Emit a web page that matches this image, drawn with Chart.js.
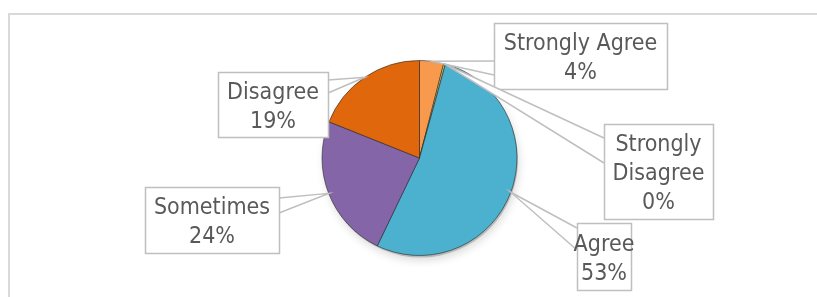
<!DOCTYPE html>
<html>
<head>
<meta charset="utf-8">
<script src="https://cdn.jsdelivr.net/npm/chart.js@4.4.1/dist/chart.umd.min.js"></script>
<style>
    html, body { margin: 0; padding: 0; background: #ffffff; }
    #wrap { width: 817px; height: 297px; }
</style>
</head>
<body>
<div id="wrap"><canvas id="survey" width="817" height="297"></canvas></div>
<script>
// answers, clockwise from 12 o'clock
const categories = ["Strongly Agree", "Strongly Disagree", "Agree", "Sometimes", "Disagree"];
const shares = [4, 0.3, 53, 24, 19];
const sliceColours = ["#F79A4E", "#F2C14E", "#4BB1CF", "#8466A8", "#E1670C"];

// callout boxes: [left, top, right, bottom] and the two points where the pointer leaves the box
const calloutBoxes = [
    { box: [494, 23, 667, 89], base: [[494, 61], [494, 75]], lines: ["Strongly Agree"] },
    { box: [604, 124, 713, 219], base: [[604, 138], [604, 163]], lines: ["Strongly", "Disagree"] },
    { box: [577, 223, 631, 290], base: [[577, 228], [577, 250]], lines: ["Agree"] },
    { box: [145, 187, 279, 253], base: [[279, 198], [279, 213]], lines: ["Sometimes"] },
    { box: [218, 72, 328, 137], base: [[328, 80], [328, 93]], lines: ["Disagree"] }
];

document.addEventListener("DOMContentLoaded", () => {
    const total = shares.reduce((a, b) => a + b, 0);

    function shade(hex, f) {
        const n = parseInt(hex.slice(1), 16);
        let r = (n >> 16) & 255, g = (n >> 8) & 255, b = n & 255;
        if (f < 0) {
            r = Math.round(r * (1 + f)); g = Math.round(g * (1 + f)); b = Math.round(b * (1 + f));
        } else {
            r = Math.round(r + (255 - r) * f); g = Math.round(g + (255 - g) * f); b = Math.round(b + (255 - b) * f);
        }
        return `rgb(${r}, ${g}, ${b})`;
    }

    function sliceFill(context) {
        const base = sliceColours[context.dataIndex];
        const chart = context.chart;
        const meta = chart.getDatasetMeta(0);
        const arc = meta.data[context.dataIndex];
        if (!arc || !arc.outerRadius) return base;
        const g = chart.ctx.createRadialGradient(arc.x, arc.y, 0, arc.x, arc.y, arc.outerRadius);
        g.addColorStop(0, shade(base, -0.06));
        g.addColorStop(0.5, base);
        g.addColorStop(0.88, shade(base, 0.06));
        g.addColorStop(0.95, shade(base, -0.1));
        g.addColorStop(1, shade(base, -0.35));
        return g;
    }

    const frame = {
        id: "frame",
        beforeDraw(chart) {
            const ctx = chart.ctx;
            ctx.save();
            ctx.strokeStyle = "#d9d9d9";
            ctx.lineWidth = 2;
            ctx.strokeRect(9, 14, 830, 300);
            ctx.restore();
        }
    };

    const pieShadow = {
        id: "pieShadow",
        beforeDatasetsDraw(chart) {
            const arc = chart.getDatasetMeta(0).data[0];
            const ctx = chart.ctx;
            ctx.save();
            ctx.beginPath();
            ctx.arc(arc.x + 1, arc.y + 2, arc.outerRadius, 0, Math.PI * 2);
            ctx.shadowColor = "rgba(0, 0, 0, 0.35)";
            ctx.shadowBlur = 8;
            ctx.shadowOffsetX = 1;
            ctx.shadowOffsetY = 3;
            ctx.fillStyle = "rgba(120, 120, 120, 0.4)";
            ctx.fill();
            ctx.restore();
        }
    };

    const callouts = {
        id: "callouts",
        afterDatasetsDraw(chart) {
            const ctx = chart.ctx;
            const meta = chart.getDatasetMeta(0);
            ctx.save();
            ctx.font = '23px "DejaVu Sans Condensed", "DejaVu Sans", sans-serif';
            ctx.textAlign = "center";
            ctx.textBaseline = "middle";
            meta.data.forEach((arc, i) => {
                const c = calloutBoxes[i];
                const mid = (arc.startAngle + arc.endAngle) / 2;
                const ax = arc.x + Math.cos(mid) * arc.outerRadius;
                const ay = arc.y + Math.sin(mid) * arc.outerRadius;
                const [l, t, r, b] = c.box;
                // pointer
                ctx.beginPath();
                ctx.moveTo(c.base[0][0], c.base[0][1]);
                ctx.lineTo(ax, ay);
                ctx.lineTo(c.base[1][0], c.base[1][1]);
                ctx.closePath();
                ctx.fillStyle = "#ffffff";
                ctx.fill();
                ctx.strokeStyle = "#bfbfbf";
                ctx.lineWidth = 1.5;
                ctx.beginPath();
                ctx.moveTo(c.base[0][0], c.base[0][1]);
                ctx.lineTo(ax, ay);
                ctx.lineTo(c.base[1][0], c.base[1][1]);
                ctx.stroke();
                // box
                ctx.fillStyle = "#ffffff";
                ctx.fillRect(l, t, r - l, b - t);
                ctx.strokeRect(l + 0.5, t + 0.5, r - l, b - t);
                // text
                const pct = Math.round(shares[i] / total * 100) + "%";
                const lines = c.lines.concat([pct]);
                const step = 29;
                const cy = (t + b) / 2;
                ctx.fillStyle = "#595959";
                lines.forEach((txt, k) => {
                    ctx.fillText(txt, (l + r) / 2, cy + (k - (lines.length - 1) / 2) * step + 3);
                });
            });
            ctx.restore();
        }
    };

    const ctx = document.getElementById("survey").getContext("2d");
    new Chart(ctx, {
        type: "pie",
        data: {
            labels: categories,
            datasets: [{
                data: shares,
                backgroundColor: sliceFill,
                borderColor: "rgba(40, 40, 40, 0.6)",
                borderWidth: 1
            }]
        },
        options: {
            responsive: false,
            animation: false,
            layout: { padding: { top: 60, bottom: 41, left: 22, right: 0 } },
            plugins: {
                legend: { display: false },
                tooltip: { enabled: false }
            }
        },
        plugins: [frame, pieShadow, callouts]
    });
});
</script>
</body>
</html>
